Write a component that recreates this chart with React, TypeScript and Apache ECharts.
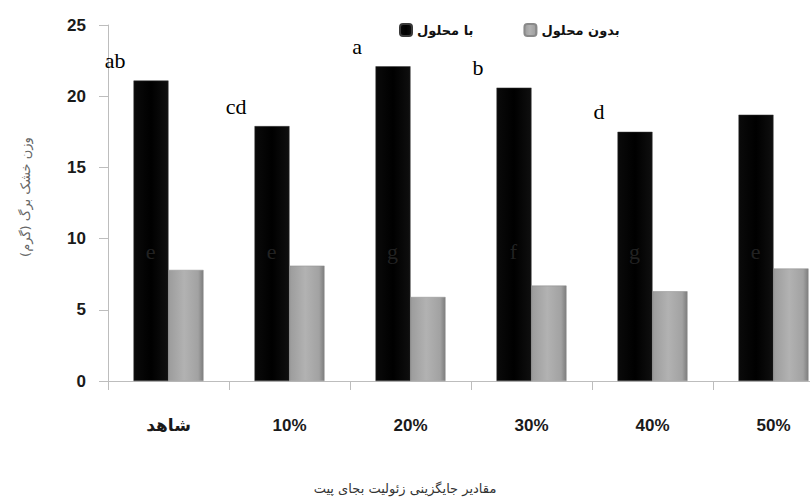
import React, { useEffect, useRef } from "react";
import * as echarts from "echarts";

const categories = ["شاهد", "10%", "20%", "30%", "40%", "50%"];
const seriesNames = ["با محلول", "بدون محلول"];
const withSolution = [21.1, 17.9, 22.1, 20.6, 17.5, 18.7];
const withoutSolution = [7.8, 8.1, 5.9, 6.7, 6.3, 7.9];
const topLetters = ["ab", "cd", "a", "b", "d", ""];
const innerLetters = ["e", "e", "g", "f", "g", "e"];
const yTicks = [0, 5, 10, 15, 20, 25];
const xAxisTitle = "مقادیر جایگزینی زئولیت بجای پیت";
const yAxisTitle = "وزن خشک برگ (گرم)";

const INNER_LETTER_LEVEL = 9.1;

export default function App() {
  const ref = useRef<HTMLDivElement>(null);
  useEffect(() => {
    document.body.style.margin = "0";
    const chart = echarts.init(ref.current!, null, { renderer: "svg" });
    const sansFont = "'Liberation Sans', 'DejaVu Sans', sans-serif";
    const arabicFont = "'DejaVu Sans', sans-serif";
    chart.setOption({
      animation: false,
      backgroundColor: "#ffffff",
      legend: {
        data: seriesNames,
        left: 394,
        top: 18,
        itemWidth: 12,
        itemHeight: 12,
        itemGap: 50,
        textStyle: { fontSize: 13, fontWeight: "bold", color: "#111", fontFamily: arabicFont },
      },
      grid: {
        left: 108,
        top: 25,
        width: 726,
        bottom: 119,
        containLabel: false,
        outerBoundsMode: "none",
      },
      xAxis: {
        type: "category",
        data: categories,
        axisLine: { lineStyle: { color: "#bdbdbd", width: 1 } },
        axisTick: { show: true, length: 9, lineStyle: { color: "#bdbdbd" } },
        axisLabel: {
          margin: 36,
          fontSize: 17,
          fontWeight: "bold",
          color: "#1a1a1a",
          fontFamily: sansFont,
        },
      },
      yAxis: {
        type: "value",
        min: yTicks[0],
        max: yTicks[yTicks.length - 1],
        interval: 5,
        splitLine: { show: false },
        axisLine: { show: true, lineStyle: { color: "#bdbdbd", width: 1 } },
        axisTick: { show: true, length: 9, lineStyle: { color: "#bdbdbd" } },
        axisLabel: {
          margin: 22,
          fontSize: 17,
          fontWeight: "bold",
          color: "#1a1a1a",
          fontFamily: sansFont,
        },
      },
      series: [
        {
          name: seriesNames[0],
          type: "bar",
          data: withSolution,
          barWidth: 35,
          barGap: "0%",
          itemStyle: {
            color: new echarts.graphic.LinearGradient(0, 0, 1, 0, [
              { offset: 0, color: "#0a0a0a" },
              { offset: 0.5, color: "#000000" },
              { offset: 1, color: "#0f0f0f" },
            ]),
            borderColor: "#3a3a3a",
            borderWidth: 0.5,
          },
          label: {
            show: true,
            position: "top",
            distance: 5,
            offset: [-36, -4],
            formatter: (p: any) => topLetters[p.dataIndex],
            fontSize: 22,
            color: "#000",
            fontFamily: "'Liberation Serif', 'DejaVu Serif', serif",
          },
        },
        {
          name: seriesNames[1],
          type: "bar",
          data: withoutSolution,
          barWidth: 35,
          barGap: "0%",
          itemStyle: {
            color: new echarts.graphic.LinearGradient(0, 0, 1, 0, [
              { offset: 0, color: "#9c9c9c" },
              { offset: 0.45, color: "#b2b2b2" },
              { offset: 0.85, color: "#a2a2a2" },
              { offset: 1, color: "#7d7d7d" },
            ]),
            borderColor: "#8a8a8a",
            borderWidth: 0.5,
          },
        },
        {
          type: "scatter",
          data: categories.map((_, i) => [i, INNER_LETTER_LEVEL]),
          symbolSize: 1,
          itemStyle: { color: "transparent" },
          silent: true,
          z: 5,
          label: {
            show: true,
            position: "inside",
            offset: [-18, 0],
            formatter: (p: any) => innerLetters[p.dataIndex],
            fontSize: 22,
            color: "#2b2b2b",
            fontFamily: "'Liberation Serif', 'DejaVu Serif', serif",
          },
        },
      ],
      graphic: [
        {
          type: "text",
          x: 405,
          y: 488,
          style: {
            text: xAxisTitle,
            fontSize: 13,
            fill: "#333",
            fontFamily: arabicFont,
            align: "center",
            verticalAlign: "middle",
          },
        },
        {
          type: "text",
          x: 25,
          y: 197,
          rotation: Math.PI / 2,
          style: {
            text: yAxisTitle,
            fontSize: 13,
            fill: "#666",
            fontFamily: arabicFont,
            align: "center",
            verticalAlign: "middle",
          },
        },
      ],
    });
    return () => chart.dispose();
  }, []);
  return <div ref={ref} style={{ position: "fixed", left: 0, top: 0, width: 810, height: 500 }} />;
}
